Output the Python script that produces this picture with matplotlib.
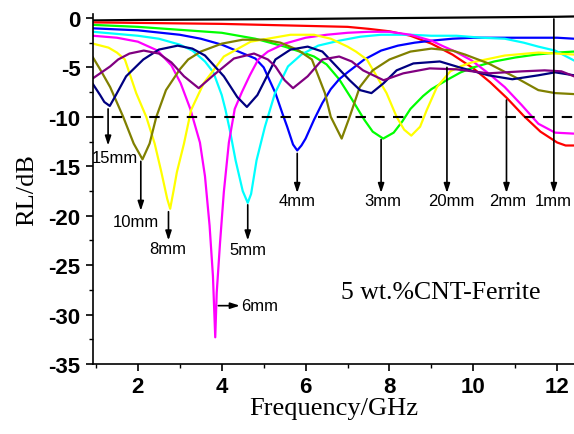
import matplotlib
matplotlib.use('Agg')
import matplotlib.pyplot as plt
from matplotlib.ticker import MultipleLocator

plt.rcParams['axes.unicode_minus'] = False

# reflection loss curves (frequency in GHz, RL in dB)
f_1mm = [0.93, 2, 4, 6, 8, 10, 12, 12.4]
rl_1mm = [-0.25, -0.2, -0.15, -0.1, -0.02, 0.05, 0.12, 0.15]

f_2mm = [0.93, 2, 3, 4, 5, 6, 7, 7.5, 8, 8.5, 9, 9.5, 10, 10.4, 10.8, 11.2, 11.6, 12.0, 12.2, 12.4]
rl_2mm = [-0.45, -0.5, -0.55, -0.6, -0.7, -0.8, -0.9, -1.1, -1.35, -1.8, -2.6, -3.7, -5.1, -6.5, -8.1,
          -9.9, -11.5, -12.6, -12.9, -12.9]

f_3mm = [0.93, 2, 3, 4, 4.8, 5.5, 6.0, 6.2, 6.5, 6.8, 7.1, 7.4, 7.6, 7.85, 8.1, 8.3, 8.5, 8.8, 9.0, 9.4,
         9.7, 10.0, 10.5, 11.0, 11.5, 12.0, 12.4]
rl_3mm = [-0.7, -0.9, -1.2, -1.5, -2.1, -2.9, -3.6, -3.9, -4.7, -6.2, -8.2, -10.3, -11.5, -12.2, -11.6,
          -10.5, -9.2, -7.9, -7.2, -6.2, -5.5, -5.0, -4.4, -4.0, -3.7, -3.5, -3.4]

f_4mm = [0.93, 2.0, 3.0, 3.5, 4.0, 4.4, 4.8, 5.0, 5.28, 5.45, 5.56, 5.7, 5.8, 5.9, 6.0, 6.2, 6.4, 6.6,
         6.8, 7.0, 7.4, 7.8, 8.2, 8.6, 9.0, 9.5, 10, 11, 12, 12.4]
rl_4mm = [-1.05, -1.25, -1.7, -2.1, -2.7, -3.4, -4.1, -5.0, -7.6, -9.7, -11.0, -12.8, -13.4, -12.9,
          -12.2, -10.3, -8.6, -7.2, -6.2, -5.5, -4.2, -3.3, -2.8, -2.5, -2.3, -2.1, -2.0, -2.0, -2.0, -2.1]

f_5mm = [0.93, 2.0, 2.5, 3.0, 3.3, 3.6, 3.8, 4.0, 4.09, 4.2, 4.33, 4.5, 4.62, 4.7, 4.83, 5.03, 5.27,
         5.58, 5.9, 6.3, 6.8, 7.3, 7.8, 8.5, 9.0, 9.6, 10.2, 10.75, 11.2, 11.55, 11.95, 12.4]
rl_5mm = [-1.4, -1.8, -2.1, -2.7, -3.3, -4.4, -5.5, -7.8, -9.3, -11.5, -14.4, -17.5, -18.7, -17.8,
          -14.4, -11.0, -7.6, -4.9, -3.7, -2.8, -2.3, -1.9, -1.7, -1.7, -1.8, -1.8, -2.0, -2.1, -2.5,
          -2.9, -3.3, -4.3]

f_6mm = [0.93, 1.5, 2.0, 2.47, 2.8, 3.02, 3.25, 3.48, 3.6, 3.71, 3.79, 3.845, 3.88, 3.96, 4.05, 4.17,
         4.31, 4.48, 4.67, 4.87, 5.1, 5.5, 6.0, 6.5, 7.0, 7.5, 8.0, 8.5, 9.0, 9.3, 9.57, 9.96, 10.36,
         10.75, 11.15, 11.55, 11.95, 12.4]
rl_6mm = [-1.8, -2.0, -2.4, -3.3, -4.8, -6.6, -9.2, -12.6, -16.0, -21.0, -26.1, -32.3, -27.8, -22.7,
          -17.6, -12.6, -9.2, -7.5, -5.8, -4.2, -3.4, -2.6, -2.0, -1.7, -1.5, -1.4, -1.4, -1.7, -2.3,
          -2.9, -3.4, -4.3, -5.6, -7.0, -8.8, -10.7, -11.6, -11.7]

f_8mm = [0.93, 1.3, 1.5, 1.69, 1.96, 2.2, 2.4, 2.55, 2.7, 2.77, 2.85, 2.93, 3.1, 3.27, 3.57, 4.05,
         4.69, 5.64, 6.2, 6.6, 7.0, 7.2, 7.46, 7.93, 8.17, 8.35, 8.52, 8.73, 8.89, 9.13, 9.45, 9.69,
         9.96, 10.75, 11.55, 12.4]
rl_8mm = [-2.6, -3.0, -3.5, -4.2, -7.6, -10.0, -12.7, -15.4, -18.3, -19.3, -17.5, -15.6, -12.7, -9.3,
          -6.6, -3.9, -2.4, -1.7, -1.7, -2.1, -2.9, -3.4, -4.2, -7.6, -10.0, -11.3, -11.9, -11.0, -9.3,
          -7.0, -5.4, -4.9, -4.5, -3.8, -3.5, -3.7]

f_10mm = [0.93, 1.1, 1.34, 1.65, 1.9, 2.11, 2.28, 2.44, 2.67, 3.0, 3.2, 3.5, 4.0, 4.5, 5.0, 5.4, 5.8,
          6.15, 6.46, 6.6, 6.86, 7.05, 7.29, 7.6, 8.0, 8.5, 9.0, 9.5, 9.8, 10.36, 11.0, 11.55, 11.95, 12.4]
rl_10mm = [-4.0, -5.2, -7.0, -10.0, -12.7, -14.3, -12.7, -10.0, -7.3, -5.2, -4.2, -3.4, -2.6, -2.2,
           -2.2, -2.5, -3.2, -4.2, -7.6, -10.0, -12.2, -10.0, -7.0, -5.3, -4.2, -3.4, -3.1, -3.3, -3.7,
           -4.6, -6.0, -7.3, -7.6, -7.7]

f_15mm = [0.93, 1.1, 1.2, 1.33, 1.45, 1.72, 2.13, 2.5, 2.95, 3.3, 3.6, 4.05, 4.37, 4.6, 4.85, 5.28,
          5.64, 6.05, 6.4, 6.58, 7.05, 7.3, 7.57, 7.86, 8.17, 8.57, 9.2, 9.67, 10.36, 10.93, 11.55,
          11.95, 12.4]
rl_15mm = [-6.7, -7.8, -8.5, -8.9, -8.0, -5.9, -4.2, -3.2, -2.8, -3.1, -3.8, -5.9, -8.0, -9.0, -7.8,
           -4.2, -3.2, -2.9, -3.4, -4.2, -6.3, -7.3, -7.6, -6.6, -5.3, -4.6, -4.4, -5.0, -5.8, -6.2,
           -5.8, -5.5, -5.8]

f_20mm = [0.93, 1.34, 1.53, 1.8, 2.14, 2.5, 2.8, 3.1, 3.45, 3.8, 4.29, 4.77, 5.1, 5.28, 5.5, 5.7,
          6.05, 6.4, 6.8, 7.1, 7.37, 7.86, 8.33, 8.96, 9.6, 10.36, 11.16, 11.7, 12.1, 12.4]
rl_20mm = [-6.1, -4.9, -4.2, -3.6, -3.3, -3.6, -4.5, -5.9, -7.1, -5.8, -4.1, -3.6, -4.2, -4.9, -6.3,
           -7.1, -5.9, -4.2, -3.9, -4.4, -5.3, -6.3, -5.6, -5.1, -5.2, -5.6, -5.4, -5.3, -5.4, -5.9]

curves = [
    (f_1mm, rl_1mm, 'black'),
    (f_2mm, rl_2mm, '#ff0000'),
    (f_3mm, rl_3mm, '#00ff00'),
    (f_4mm, rl_4mm, '#0000ff'),
    (f_5mm, rl_5mm, '#00ffff'),
    (f_6mm, rl_6mm, '#ff00ff'),
    (f_8mm, rl_8mm, '#ffff00'),
    (f_10mm, rl_10mm, '#808000'),
    (f_15mm, rl_15mm, '#000080'),
    (f_20mm, rl_20mm, '#800080'),
]

# thickness labels with their vertical arrows: (text, x, arrow start, arrow end, text y)
arrow_labels = ['15mm', '10mm', '8mm', '5mm', '4mm', '3mm', '20mm', '2mm', '1mm']
arrow_x = [1.29, 2.07, 2.73, 4.62, 5.8, 7.8, 9.37, 10.79, 11.92]
arrow_from = [-9.2, -14.5, -19.6, -18.9, -13.7, -12.3, -5.0, -8.3, -0.1]
arrow_to = [-12.9, -19.5, -22.5, -22.5, -17.7, -17.7, -17.7, -17.7, -17.7]
label_x = [1.44, 1.96, 2.71, 4.62, 5.8, 7.83, 9.47, 10.82, 11.9]
label_y = [-14.1, -20.6, -23.3, -23.4, -18.5, -18.5, -18.5, -18.5, -18.5]

fig = plt.figure(figsize=(5.74, 4.35), dpi=100)
ax = fig.add_axes([93 / 574, 1 - 365 / 435, 481 / 574, 350 / 435])

for f, rl, c in curves:
    ax.plot(f, rl, color=c, lw=1.6, solid_joinstyle='round')

ax.axhline(-10, color='black', lw=1.5, ls=(0, (5, 4)))

ap = dict(arrowstyle='-|>,head_length=0.55,head_width=0.18', color='black', lw=1.2, shrinkA=0, shrinkB=0)
for txt, x, y0, y1, lx, ly in zip(arrow_labels, arrow_x, arrow_from, arrow_to, label_x, label_y):
    ax.annotate('', xy=(x, y1), xytext=(x, y0), arrowprops=ap)
    ax.text(lx, ly, txt, ha='center', va='center', fontsize=12, family='Liberation Sans')

# 6mm points sideways
ax.annotate('', xy=(4.43, -29.1), xytext=(3.92, -29.1), arrowprops=ap)
ax.text(4.47, -29.1, '6mm', ha='left', va='center', fontsize=12, family='Liberation Sans')

ax.text(9.22, -27.7, '5 wt.%CNT-Ferrite', ha='center', va='center', fontsize=18.5,
        family='Liberation Serif')

ax.set_xlim(0.93, 12.4)
ax.set_ylim(-35, 0.4)
ax.xaxis.set_major_locator(MultipleLocator(2))
ax.xaxis.set_minor_locator(MultipleLocator(1))
ax.yaxis.set_major_locator(MultipleLocator(5))
ax.yaxis.set_minor_locator(MultipleLocator(2.5))
ax.spines['top'].set_visible(False)
ax.spines['right'].set_visible(False)
ax.spines['left'].set_linewidth(1.2)
ax.spines['bottom'].set_linewidth(1.2)
ax.tick_params(which='major', direction='out', length=5, width=1.2, pad=4)
ax.tick_params(which='minor', direction='out', length=3, width=1.0)
for lab in ax.get_xticklabels() + ax.get_yticklabels():
    lab.set_family('Liberation Sans')
    lab.set_fontweight('bold')
    lab.set_fontsize(16)

ax.set_xlabel('Frequency/GHz', family='Liberation Serif', fontsize=19, labelpad=0)
ax.set_ylabel('RL/dB', family='Liberation Serif', fontsize=19, labelpad=7)

plt.savefig('out.png', dpi=100)
